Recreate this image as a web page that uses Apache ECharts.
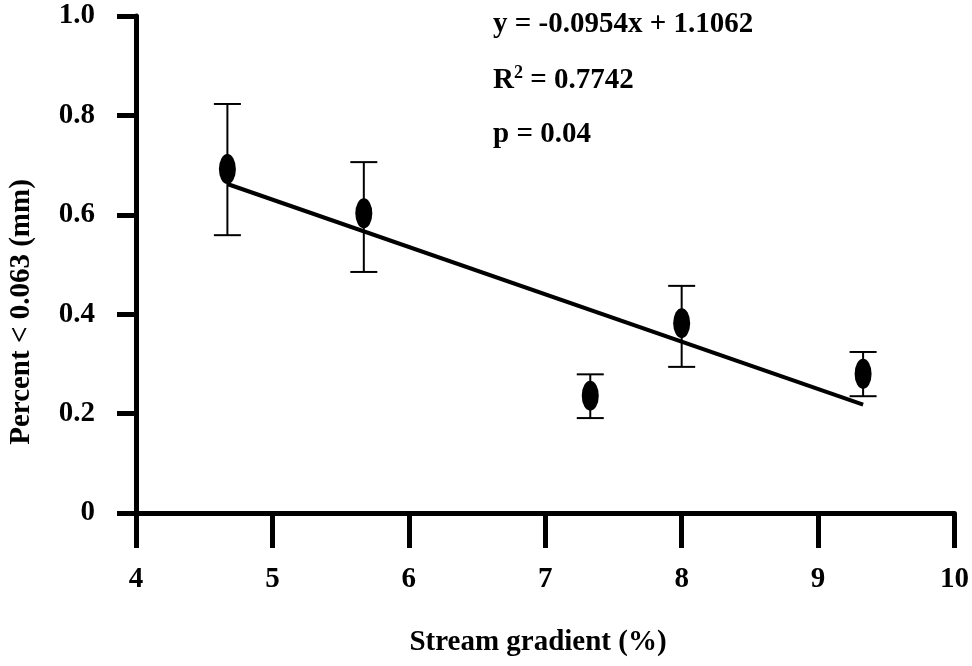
<!DOCTYPE html>
<html>
<head>
<meta charset="utf-8">
<script src="https://cdn.jsdelivr.net/npm/echarts@6/dist/echarts.min.js"></script>
<style>
html,body{margin:0;padding:0;background:#fff;}
#chart{width:972px;height:666px;}
</style>
</head>
<body>
<div id="chart"></div>
<script>
// ---- data ----
const gradient = [4.67, 5.67, 7.33, 8.0, 9.33];
const percentMean = [0.692, 0.603, 0.236, 0.382, 0.280];
const errLow = [0.559, 0.485, 0.191, 0.294, 0.235];
const errHigh = [0.823, 0.706, 0.279, 0.457, 0.324];
const trendX = [4.67, 9.33];
const trendY = [0.662, 0.218];
const xTickLabels = ['4', '5', '6', '7', '8', '9', '10'];
const yTickLabels = ['0', '0.2', '0.4', '0.6', '0.8', '1.0'];
const xTitle = 'Stream gradient (%)';
const yTitle = 'Percent < 0.063 (mm)';
const eqLine1 = 'y = -0.0954x + 1.1062';
const eqLine2 = '0.7742';
const eqLine3 = 'p = 0.04';

const FONT = 'Liberation Serif';
const FS = 29;

const chart = echarts.init(document.getElementById('chart'), null, {renderer: 'canvas'});

const scatterData = gradient.map((x, i) => [x, percentMean[i]]);
const errData = gradient.map((x, i) => [x, errLow[i], errHigh[i]]);
const trendData = trendX.map((x, i) => [x, trendY[i]]);

const option = {
  backgroundColor: '#ffffff',
  animation: false,
  grid: {left: 136, right: 8, top: 16, bottom: 153, containLabel: false},
  xAxis: {
    type: 'value', min: 4, max: 10, interval: 1,
    axisLine: {show: true, onZero: false, lineStyle: {color: '#000', width: 5}},
    axisTick: {show: true, length: 35, lineStyle: {color: '#000', width: 5}},
    splitLine: {show: false},
    axisLabel: {
      margin: 52, color: '#000', fontFamily: FONT, fontWeight: 'bold', fontSize: FS,
      formatter: v => xTickLabels[Math.round(v - 4)]
    }
  },
  yAxis: {
    type: 'value', min: 0, max: 1, interval: 0.2,
    axisLine: {show: true, onZero: false, lineStyle: {color: '#000', width: 5}},
    axisTick: {show: true, length: 19, lineStyle: {color: '#000', width: 5}},
    splitLine: {show: false},
    axisLabel: {
      margin: 41, color: '#000', fontFamily: FONT, fontWeight: 'bold', fontSize: FS,
      formatter: v => yTickLabels[Math.round(v / 0.2)]
    }
  },
  graphic: [
    {type: 'text', x: 538, y: 643, style: {text: xTitle, fontFamily: FONT, fontWeight: 'bold', fontSize: FS, fill: '#000', align: 'center', verticalAlign: 'middle'}},
    {type: 'text', x: 22, y: 312, rotation: Math.PI / 2, style: {text: yTitle, fontFamily: FONT, fontWeight: 'bold', fontSize: FS, fill: '#000', align: 'center', verticalAlign: 'middle'}},
    {type: 'text', x: 493, y: 25, style: {text: eqLine1, fontFamily: FONT, fontWeight: 'bold', fontSize: FS, fill: '#000', align: 'left', verticalAlign: 'middle'}},
    {type: 'text', x: 493, y: 80, style: {
      text: '{r|R}{s|2}{r| = ' + eqLine2 + '}',
      align: 'left', verticalAlign: 'middle',
      rich: {
        r: {fontFamily: FONT, fontWeight: 'bold', fontSize: FS, fill: '#000', lineHeight: 31, verticalAlign: 'bottom'},
        s: {fontFamily: FONT, fontWeight: 'bold', fontSize: 18, fill: '#000', lineHeight: 31, verticalAlign: 'top'}
      }
    }},
    {type: 'text', x: 493, y: 135, style: {text: eqLine3, fontFamily: FONT, fontWeight: 'bold', fontSize: FS, fill: '#000', align: 'left', verticalAlign: 'middle'}}
  ],
  series: [
    {
      type: 'line', data: trendData, symbol: 'none', silent: true, z: 2,
      lineStyle: {color: '#000', width: 4}
    },
    {
      type: 'custom', data: errData, z: 3, clip: false,
      renderItem: function (params, api) {
        const x = api.value(0);
        const top = api.coord([x, api.value(2)]);
        const bot = api.coord([x, api.value(1)]);
        const hw = 13.5;
        const st = {stroke: '#000', lineWidth: 2};
        return {
          type: 'group',
          children: [
            {type: 'line', shape: {x1: top[0], y1: top[1], x2: bot[0], y2: bot[1]}, style: st},
            {type: 'line', shape: {x1: top[0] - hw, y1: top[1], x2: top[0] + hw, y2: top[1]}, style: st},
            {type: 'line', shape: {x1: bot[0] - hw, y1: bot[1], x2: bot[0] + hw, y2: bot[1]}, style: st}
          ]
        };
      }
    },
    {
      type: 'scatter', data: scatterData, z: 4,
      symbol: 'circle', symbolSize: [17, 30],
      itemStyle: {color: '#000', opacity: 1}
    }
  ]
};
chart.setOption(option);
</script>
</body>
</html>
